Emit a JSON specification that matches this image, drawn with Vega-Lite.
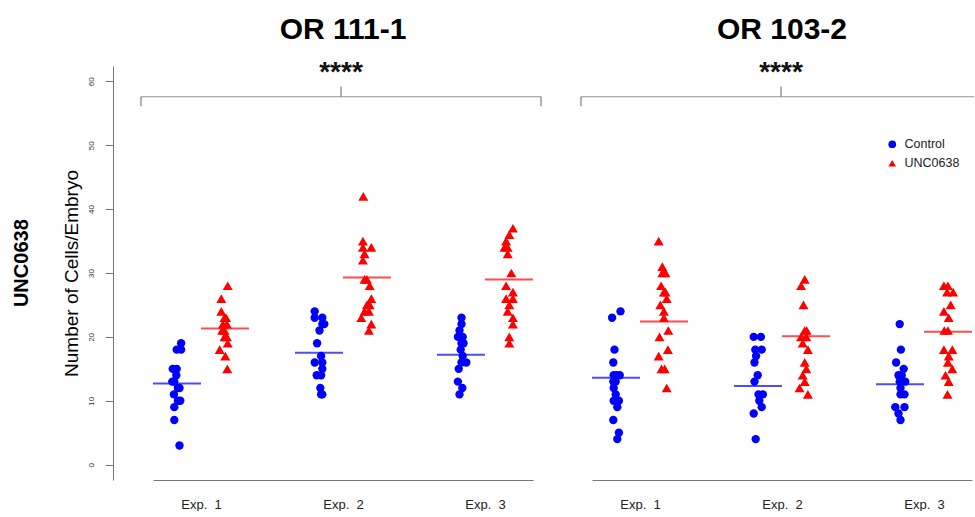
{
  "$schema": "https://vega.github.io/schema/vega-lite/v6.json",
  "padding": {"left": 12, "top": 15, "right": 0, "bottom": 0},
  "bounds": "flush",
  "spacing": 59,
  "title": {"text": "UNC0638", "orient": "left", "anchor": "middle", "fontSize": 20, "fontWeight": "bold", "font": "Liberation Sans", "color": "#000000", "offset": 30},
  "datasets": {
    "points": [
      {"strain":"OR 111-1","exp":"Exp. 1","group":"Control","value":19,"jitter":0.45},
      {"strain":"OR 111-1","exp":"Exp. 1","group":"Control","value":18,"jitter":-0.1},
      {"strain":"OR 111-1","exp":"Exp. 1","group":"Control","value":18,"jitter":0.45},
      {"strain":"OR 111-1","exp":"Exp. 1","group":"Control","value":15,"jitter":-0.6},
      {"strain":"OR 111-1","exp":"Exp. 1","group":"Control","value":15,"jitter":-0.1},
      {"strain":"OR 111-1","exp":"Exp. 1","group":"Control","value":14,"jitter":-0.15},
      {"strain":"OR 111-1","exp":"Exp. 1","group":"Control","value":13,"jitter":-0.4},
      {"strain":"OR 111-1","exp":"Exp. 1","group":"Control","value":13,"jitter":-0.65},
      {"strain":"OR 111-1","exp":"Exp. 1","group":"Control","value":12,"jitter":0.05},
      {"strain":"OR 111-1","exp":"Exp. 1","group":"Control","value":12,"jitter":0.25},
      {"strain":"OR 111-1","exp":"Exp. 1","group":"Control","value":11,"jitter":-0.45},
      {"strain":"OR 111-1","exp":"Exp. 1","group":"Control","value":10,"jitter":0.35},
      {"strain":"OR 111-1","exp":"Exp. 1","group":"Control","value":10,"jitter":0.05},
      {"strain":"OR 111-1","exp":"Exp. 1","group":"Control","value":9,"jitter":-0.4},
      {"strain":"OR 111-1","exp":"Exp. 1","group":"Control","value":7,"jitter":-0.4},
      {"strain":"OR 111-1","exp":"Exp. 1","group":"Control","value":3,"jitter":0.25},
      {"strain":"OR 111-1","exp":"Exp. 1","group":"UNC0638","value":28,"jitter":0.4},
      {"strain":"OR 111-1","exp":"Exp. 1","group":"UNC0638","value":26,"jitter":-0.4},
      {"strain":"OR 111-1","exp":"Exp. 1","group":"UNC0638","value":24,"jitter":-0.4},
      {"strain":"OR 111-1","exp":"Exp. 1","group":"UNC0638","value":23,"jitter":0},
      {"strain":"OR 111-1","exp":"Exp. 1","group":"UNC0638","value":23,"jitter":0.2},
      {"strain":"OR 111-1","exp":"Exp. 1","group":"UNC0638","value":22,"jitter":-0.2},
      {"strain":"OR 111-1","exp":"Exp. 1","group":"UNC0638","value":22,"jitter":0.3},
      {"strain":"OR 111-1","exp":"Exp. 1","group":"UNC0638","value":21,"jitter":0},
      {"strain":"OR 111-1","exp":"Exp. 1","group":"UNC0638","value":21,"jitter":-0.3},
      {"strain":"OR 111-1","exp":"Exp. 1","group":"UNC0638","value":20,"jitter":0},
      {"strain":"OR 111-1","exp":"Exp. 1","group":"UNC0638","value":20,"jitter":0.3},
      {"strain":"OR 111-1","exp":"Exp. 1","group":"UNC0638","value":19,"jitter":0.4},
      {"strain":"OR 111-1","exp":"Exp. 1","group":"UNC0638","value":18,"jitter":-0.6},
      {"strain":"OR 111-1","exp":"Exp. 1","group":"UNC0638","value":17,"jitter":0.1},
      {"strain":"OR 111-1","exp":"Exp. 1","group":"UNC0638","value":15,"jitter":0.35},
      {"strain":"OR 111-1","exp":"Exp. 2","group":"Control","value":24,"jitter":-0.6},
      {"strain":"OR 111-1","exp":"Exp. 2","group":"Control","value":23,"jitter":0.35},
      {"strain":"OR 111-1","exp":"Exp. 2","group":"Control","value":23,"jitter":-0.6},
      {"strain":"OR 111-1","exp":"Exp. 2","group":"Control","value":22,"jitter":0.6},
      {"strain":"OR 111-1","exp":"Exp. 2","group":"Control","value":22,"jitter":0.35},
      {"strain":"OR 111-1","exp":"Exp. 2","group":"Control","value":21,"jitter":0},
      {"strain":"OR 111-1","exp":"Exp. 2","group":"Control","value":19,"jitter":-0.3},
      {"strain":"OR 111-1","exp":"Exp. 2","group":"Control","value":17,"jitter":0.2},
      {"strain":"OR 111-1","exp":"Exp. 2","group":"Control","value":16,"jitter":-0.6},
      {"strain":"OR 111-1","exp":"Exp. 2","group":"Control","value":16,"jitter":0.35},
      {"strain":"OR 111-1","exp":"Exp. 2","group":"Control","value":15,"jitter":0.35},
      {"strain":"OR 111-1","exp":"Exp. 2","group":"Control","value":14,"jitter":0.2},
      {"strain":"OR 111-1","exp":"Exp. 2","group":"Control","value":14,"jitter":-0.35},
      {"strain":"OR 111-1","exp":"Exp. 2","group":"Control","value":12,"jitter":0.1},
      {"strain":"OR 111-1","exp":"Exp. 2","group":"Control","value":11,"jitter":0.2},
      {"strain":"OR 111-1","exp":"Exp. 2","group":"Control","value":11,"jitter":0.35},
      {"strain":"OR 111-1","exp":"Exp. 2","group":"UNC0638","value":42,"jitter":-0.4},
      {"strain":"OR 111-1","exp":"Exp. 2","group":"UNC0638","value":35,"jitter":-0.45},
      {"strain":"OR 111-1","exp":"Exp. 2","group":"UNC0638","value":34,"jitter":0.6},
      {"strain":"OR 111-1","exp":"Exp. 2","group":"UNC0638","value":34,"jitter":-0.45},
      {"strain":"OR 111-1","exp":"Exp. 2","group":"UNC0638","value":33,"jitter":-0.25},
      {"strain":"OR 111-1","exp":"Exp. 2","group":"UNC0638","value":32,"jitter":-0.45},
      {"strain":"OR 111-1","exp":"Exp. 2","group":"UNC0638","value":29,"jitter":-0.25},
      {"strain":"OR 111-1","exp":"Exp. 2","group":"UNC0638","value":29,"jitter":0.05},
      {"strain":"OR 111-1","exp":"Exp. 2","group":"UNC0638","value":28,"jitter":0.4},
      {"strain":"OR 111-1","exp":"Exp. 2","group":"UNC0638","value":26,"jitter":0.6},
      {"strain":"OR 111-1","exp":"Exp. 2","group":"UNC0638","value":25,"jitter":0.05},
      {"strain":"OR 111-1","exp":"Exp. 2","group":"UNC0638","value":25,"jitter":0.4},
      {"strain":"OR 111-1","exp":"Exp. 2","group":"UNC0638","value":24,"jitter":-0.25},
      {"strain":"OR 111-1","exp":"Exp. 2","group":"UNC0638","value":24,"jitter":0.3},
      {"strain":"OR 111-1","exp":"Exp. 2","group":"UNC0638","value":23,"jitter":-0.65},
      {"strain":"OR 111-1","exp":"Exp. 2","group":"UNC0638","value":22,"jitter":0.6},
      {"strain":"OR 111-1","exp":"Exp. 2","group":"UNC0638","value":21,"jitter":0.3},
      {"strain":"OR 111-1","exp":"Exp. 3","group":"Control","value":23,"jitter":0},
      {"strain":"OR 111-1","exp":"Exp. 3","group":"Control","value":22,"jitter":0},
      {"strain":"OR 111-1","exp":"Exp. 3","group":"Control","value":21,"jitter":-0.25},
      {"strain":"OR 111-1","exp":"Exp. 3","group":"Control","value":20,"jitter":0.15},
      {"strain":"OR 111-1","exp":"Exp. 3","group":"Control","value":20,"jitter":-0.45},
      {"strain":"OR 111-1","exp":"Exp. 3","group":"Control","value":19,"jitter":0},
      {"strain":"OR 111-1","exp":"Exp. 3","group":"Control","value":19,"jitter":0.25},
      {"strain":"OR 111-1","exp":"Exp. 3","group":"Control","value":18,"jitter":-0.1},
      {"strain":"OR 111-1","exp":"Exp. 3","group":"Control","value":17,"jitter":0.15},
      {"strain":"OR 111-1","exp":"Exp. 3","group":"Control","value":16,"jitter":0.6},
      {"strain":"OR 111-1","exp":"Exp. 3","group":"Control","value":16,"jitter":0},
      {"strain":"OR 111-1","exp":"Exp. 3","group":"Control","value":15,"jitter":-0.35},
      {"strain":"OR 111-1","exp":"Exp. 3","group":"Control","value":13,"jitter":-0.45},
      {"strain":"OR 111-1","exp":"Exp. 3","group":"Control","value":12,"jitter":0.1},
      {"strain":"OR 111-1","exp":"Exp. 3","group":"Control","value":11,"jitter":-0.25},
      {"strain":"OR 111-1","exp":"Exp. 3","group":"UNC0638","value":37,"jitter":0.55},
      {"strain":"OR 111-1","exp":"Exp. 3","group":"UNC0638","value":36,"jitter":0.1},
      {"strain":"OR 111-1","exp":"Exp. 3","group":"UNC0638","value":35,"jitter":-0.3},
      {"strain":"OR 111-1","exp":"Exp. 3","group":"UNC0638","value":34,"jitter":-0.1},
      {"strain":"OR 111-1","exp":"Exp. 3","group":"UNC0638","value":34,"jitter":-0.5},
      {"strain":"OR 111-1","exp":"Exp. 3","group":"UNC0638","value":33,"jitter":-0.1},
      {"strain":"OR 111-1","exp":"Exp. 3","group":"UNC0638","value":30,"jitter":0.35},
      {"strain":"OR 111-1","exp":"Exp. 3","group":"UNC0638","value":28,"jitter":-0.3},
      {"strain":"OR 111-1","exp":"Exp. 3","group":"UNC0638","value":27,"jitter":0.55},
      {"strain":"OR 111-1","exp":"Exp. 3","group":"UNC0638","value":26,"jitter":-0.3},
      {"strain":"OR 111-1","exp":"Exp. 3","group":"UNC0638","value":26,"jitter":0.55},
      {"strain":"OR 111-1","exp":"Exp. 3","group":"UNC0638","value":25,"jitter":0.1},
      {"strain":"OR 111-1","exp":"Exp. 3","group":"UNC0638","value":24,"jitter":-0.1},
      {"strain":"OR 111-1","exp":"Exp. 3","group":"UNC0638","value":23,"jitter":0.55},
      {"strain":"OR 111-1","exp":"Exp. 3","group":"UNC0638","value":22,"jitter":0.55},
      {"strain":"OR 111-1","exp":"Exp. 3","group":"UNC0638","value":20,"jitter":0.1},
      {"strain":"OR 111-1","exp":"Exp. 3","group":"UNC0638","value":19,"jitter":0.1},
      {"strain":"OR 103-2","exp":"Exp. 1","group":"Control","value":24,"jitter":0.5},
      {"strain":"OR 103-2","exp":"Exp. 1","group":"Control","value":23,"jitter":-0.55},
      {"strain":"OR 103-2","exp":"Exp. 1","group":"Control","value":18,"jitter":-0.25},
      {"strain":"OR 103-2","exp":"Exp. 1","group":"Control","value":16,"jitter":-0.4},
      {"strain":"OR 103-2","exp":"Exp. 1","group":"Control","value":14,"jitter":0.4},
      {"strain":"OR 103-2","exp":"Exp. 1","group":"Control","value":14,"jitter":0},
      {"strain":"OR 103-2","exp":"Exp. 1","group":"Control","value":14,"jitter":-0.35},
      {"strain":"OR 103-2","exp":"Exp. 1","group":"Control","value":13,"jitter":-0.4},
      {"strain":"OR 103-2","exp":"Exp. 1","group":"Control","value":13,"jitter":-0.1},
      {"strain":"OR 103-2","exp":"Exp. 1","group":"Control","value":12,"jitter":-0.35},
      {"strain":"OR 103-2","exp":"Exp. 1","group":"Control","value":11,"jitter":-0.1},
      {"strain":"OR 103-2","exp":"Exp. 1","group":"Control","value":10,"jitter":-0.35},
      {"strain":"OR 103-2","exp":"Exp. 1","group":"Control","value":10,"jitter":0.3},
      {"strain":"OR 103-2","exp":"Exp. 1","group":"Control","value":10,"jitter":0},
      {"strain":"OR 103-2","exp":"Exp. 1","group":"Control","value":9,"jitter":0.1},
      {"strain":"OR 103-2","exp":"Exp. 1","group":"Control","value":7,"jitter":-0.4},
      {"strain":"OR 103-2","exp":"Exp. 1","group":"Control","value":5,"jitter":0.3},
      {"strain":"OR 103-2","exp":"Exp. 1","group":"Control","value":4,"jitter":0.1},
      {"strain":"OR 103-2","exp":"Exp. 1","group":"UNC0638","value":35,"jitter":-0.6},
      {"strain":"OR 103-2","exp":"Exp. 1","group":"UNC0638","value":31,"jitter":-0.15},
      {"strain":"OR 103-2","exp":"Exp. 1","group":"UNC0638","value":30,"jitter":0.25},
      {"strain":"OR 103-2","exp":"Exp. 1","group":"UNC0638","value":30,"jitter":-0.15},
      {"strain":"OR 103-2","exp":"Exp. 1","group":"UNC0638","value":28,"jitter":-0.3},
      {"strain":"OR 103-2","exp":"Exp. 1","group":"UNC0638","value":27,"jitter":0.25},
      {"strain":"OR 103-2","exp":"Exp. 1","group":"UNC0638","value":27,"jitter":0.05},
      {"strain":"OR 103-2","exp":"Exp. 1","group":"UNC0638","value":26,"jitter":0.4},
      {"strain":"OR 103-2","exp":"Exp. 1","group":"UNC0638","value":25,"jitter":-0.4},
      {"strain":"OR 103-2","exp":"Exp. 1","group":"UNC0638","value":24,"jitter":0.05},
      {"strain":"OR 103-2","exp":"Exp. 1","group":"UNC0638","value":23,"jitter":0.05},
      {"strain":"OR 103-2","exp":"Exp. 1","group":"UNC0638","value":21,"jitter":0.6},
      {"strain":"OR 103-2","exp":"Exp. 1","group":"UNC0638","value":20,"jitter":-0.5},
      {"strain":"OR 103-2","exp":"Exp. 1","group":"UNC0638","value":18,"jitter":0.55},
      {"strain":"OR 103-2","exp":"Exp. 1","group":"UNC0638","value":17,"jitter":-0.6},
      {"strain":"OR 103-2","exp":"Exp. 1","group":"UNC0638","value":15,"jitter":-0.25},
      {"strain":"OR 103-2","exp":"Exp. 1","group":"UNC0638","value":15,"jitter":0.15},
      {"strain":"OR 103-2","exp":"Exp. 1","group":"UNC0638","value":12,"jitter":0.4},
      {"strain":"OR 103-2","exp":"Exp. 2","group":"Control","value":20,"jitter":-0.6},
      {"strain":"OR 103-2","exp":"Exp. 2","group":"Control","value":20,"jitter":0.3},
      {"strain":"OR 103-2","exp":"Exp. 2","group":"Control","value":18,"jitter":-0.4},
      {"strain":"OR 103-2","exp":"Exp. 2","group":"Control","value":18,"jitter":0.4},
      {"strain":"OR 103-2","exp":"Exp. 2","group":"Control","value":17,"jitter":-0.3},
      {"strain":"OR 103-2","exp":"Exp. 2","group":"Control","value":16,"jitter":-0.5},
      {"strain":"OR 103-2","exp":"Exp. 2","group":"Control","value":14,"jitter":-0.1},
      {"strain":"OR 103-2","exp":"Exp. 2","group":"Control","value":13,"jitter":-0.5},
      {"strain":"OR 103-2","exp":"Exp. 2","group":"Control","value":11,"jitter":0},
      {"strain":"OR 103-2","exp":"Exp. 2","group":"Control","value":11,"jitter":0.55},
      {"strain":"OR 103-2","exp":"Exp. 2","group":"Control","value":10,"jitter":0.1},
      {"strain":"OR 103-2","exp":"Exp. 2","group":"Control","value":9,"jitter":0.4},
      {"strain":"OR 103-2","exp":"Exp. 2","group":"Control","value":8,"jitter":-0.6},
      {"strain":"OR 103-2","exp":"Exp. 2","group":"Control","value":4,"jitter":-0.35},
      {"strain":"OR 103-2","exp":"Exp. 2","group":"UNC0638","value":29,"jitter":-0.1},
      {"strain":"OR 103-2","exp":"Exp. 2","group":"UNC0638","value":28,"jitter":-0.55},
      {"strain":"OR 103-2","exp":"Exp. 2","group":"UNC0638","value":25,"jitter":-0.25},
      {"strain":"OR 103-2","exp":"Exp. 2","group":"UNC0638","value":21,"jitter":-0.1},
      {"strain":"OR 103-2","exp":"Exp. 2","group":"UNC0638","value":21,"jitter":0.15},
      {"strain":"OR 103-2","exp":"Exp. 2","group":"UNC0638","value":20,"jitter":-0.55},
      {"strain":"OR 103-2","exp":"Exp. 2","group":"UNC0638","value":20,"jitter":0.1},
      {"strain":"OR 103-2","exp":"Exp. 2","group":"UNC0638","value":19,"jitter":-0.35},
      {"strain":"OR 103-2","exp":"Exp. 2","group":"UNC0638","value":18,"jitter":0.3},
      {"strain":"OR 103-2","exp":"Exp. 2","group":"UNC0638","value":16,"jitter":-0.1},
      {"strain":"OR 103-2","exp":"Exp. 2","group":"UNC0638","value":15,"jitter":0.1},
      {"strain":"OR 103-2","exp":"Exp. 2","group":"UNC0638","value":14,"jitter":-0.35},
      {"strain":"OR 103-2","exp":"Exp. 2","group":"UNC0638","value":13,"jitter":-0.1},
      {"strain":"OR 103-2","exp":"Exp. 2","group":"UNC0638","value":12,"jitter":-0.75},
      {"strain":"OR 103-2","exp":"Exp. 2","group":"UNC0638","value":11,"jitter":0.3},
      {"strain":"OR 103-2","exp":"Exp. 3","group":"Control","value":22,"jitter":-0.1},
      {"strain":"OR 103-2","exp":"Exp. 3","group":"Control","value":18,"jitter":0.05},
      {"strain":"OR 103-2","exp":"Exp. 3","group":"Control","value":16,"jitter":-0.55},
      {"strain":"OR 103-2","exp":"Exp. 3","group":"Control","value":15,"jitter":0.4},
      {"strain":"OR 103-2","exp":"Exp. 3","group":"Control","value":14,"jitter":-0.25},
      {"strain":"OR 103-2","exp":"Exp. 3","group":"Control","value":14,"jitter":0.15},
      {"strain":"OR 103-2","exp":"Exp. 3","group":"Control","value":13,"jitter":0.6},
      {"strain":"OR 103-2","exp":"Exp. 3","group":"Control","value":13,"jitter":-0.1},
      {"strain":"OR 103-2","exp":"Exp. 3","group":"Control","value":12,"jitter":0},
      {"strain":"OR 103-2","exp":"Exp. 3","group":"Control","value":11,"jitter":0},
      {"strain":"OR 103-2","exp":"Exp. 3","group":"Control","value":11,"jitter":0.5},
      {"strain":"OR 103-2","exp":"Exp. 3","group":"Control","value":9,"jitter":-0.65},
      {"strain":"OR 103-2","exp":"Exp. 3","group":"Control","value":9,"jitter":0.5},
      {"strain":"OR 103-2","exp":"Exp. 3","group":"Control","value":8,"jitter":-0.25},
      {"strain":"OR 103-2","exp":"Exp. 3","group":"Control","value":7,"jitter":0},
      {"strain":"OR 103-2","exp":"Exp. 3","group":"UNC0638","value":28,"jitter":-0.45},
      {"strain":"OR 103-2","exp":"Exp. 3","group":"UNC0638","value":28,"jitter":0.05},
      {"strain":"OR 103-2","exp":"Exp. 3","group":"UNC0638","value":27,"jitter":-0.05},
      {"strain":"OR 103-2","exp":"Exp. 3","group":"UNC0638","value":27,"jitter":0.7},
      {"strain":"OR 103-2","exp":"Exp. 3","group":"UNC0638","value":25,"jitter":0.4},
      {"strain":"OR 103-2","exp":"Exp. 3","group":"UNC0638","value":24,"jitter":-0.45},
      {"strain":"OR 103-2","exp":"Exp. 3","group":"UNC0638","value":23,"jitter":0.15},
      {"strain":"OR 103-2","exp":"Exp. 3","group":"UNC0638","value":21,"jitter":-0.4},
      {"strain":"OR 103-2","exp":"Exp. 3","group":"UNC0638","value":21,"jitter":0.05},
      {"strain":"OR 103-2","exp":"Exp. 3","group":"UNC0638","value":18,"jitter":-0.45},
      {"strain":"OR 103-2","exp":"Exp. 3","group":"UNC0638","value":18,"jitter":0.6},
      {"strain":"OR 103-2","exp":"Exp. 3","group":"UNC0638","value":17,"jitter":0.15},
      {"strain":"OR 103-2","exp":"Exp. 3","group":"UNC0638","value":16,"jitter":0.05},
      {"strain":"OR 103-2","exp":"Exp. 3","group":"UNC0638","value":15,"jitter":0.6},
      {"strain":"OR 103-2","exp":"Exp. 3","group":"UNC0638","value":14,"jitter":-0.25},
      {"strain":"OR 103-2","exp":"Exp. 3","group":"UNC0638","value":13,"jitter":0.15},
      {"strain":"OR 103-2","exp":"Exp. 3","group":"UNC0638","value":11,"jitter":0}
    ],
    "means": [
      {"strain":"OR 111-1","exp":"Exp. 1","group":"Control","mean":12.7},
      {"strain":"OR 111-1","exp":"Exp. 1","group":"UNC0638","mean":21.3},
      {"strain":"OR 111-1","exp":"Exp. 2","group":"Control","mean":17.5},
      {"strain":"OR 111-1","exp":"Exp. 2","group":"UNC0638","mean":29.3},
      {"strain":"OR 111-1","exp":"Exp. 3","group":"Control","mean":17.2},
      {"strain":"OR 111-1","exp":"Exp. 3","group":"UNC0638","mean":29.0},
      {"strain":"OR 103-2","exp":"Exp. 1","group":"Control","mean":13.6},
      {"strain":"OR 103-2","exp":"Exp. 1","group":"UNC0638","mean":22.4},
      {"strain":"OR 103-2","exp":"Exp. 2","group":"Control","mean":12.3},
      {"strain":"OR 103-2","exp":"Exp. 2","group":"UNC0638","mean":20.1},
      {"strain":"OR 103-2","exp":"Exp. 3","group":"Control","mean":12.6},
      {"strain":"OR 103-2","exp":"Exp. 3","group":"UNC0638","mean":20.8}
    ],
    "brackets": [
      {"strain":"OR 111-1","sig":"****"},
      {"strain":"OR 103-2","sig":"****"}
    ]
  },
  "hconcat": [
    {
      "title": {"text": "OR 111-1"},
      "width": 380,
      "height": 414,
      "layer": [
        {
          "data": {"name": "points"},
          "transform": [{"filter": "datum.strain === 'OR 111-1' && datum.group === 'Control'"}],
          "mark": {"type": "point", "filled": true, "opacity": 1, "size": 70, "xOffset": {"expr": "datum.jitter * 8 - 23.5"}},
          "encoding": {
            "x": {"field": "exp", "type": "ordinal", "scale": {"type": "point", "domain": ["Exp. 1", "Exp. 2", "Exp. 3"], "padding": 0.338},
                  "axis": {"title": null, "ticks": false, "labelFontSize": 13, "labelColor": "#222222", "labelPadding": 18, "labelAngle": 0, "domainColor": "#777777", "labelExpr": "replace(datum.label, '. ', '.\u00a0 ')"}},
            "y": {"field": "value", "type": "quantitative", "scale": {"domain": [-2.4, 62.4], "nice": false, "zero": false},
                  "axis": {"values": [0, 10, 20, 30, 40, 50, 60], "title": "Number of Cells/Embryo", "titleFontSize": 19, "titleFontWeight": "normal", "titleColor": "#000000", "titlePadding": 6, "labelAngle": -90, "labelAlign": "center", "labelBaseline": "bottom", "labelFontSize": 8, "labelColor": "#333333", "labelPadding": 10, "tickSize": 8, "offset": 40, "domainColor": "#777777", "tickColor": "#777777", "grid": false}},
            "color": {"field": "group", "type": "nominal", "scale": {"domain": ["Control", "UNC0638"], "range": ["#0000ff", "#ff0000"]},
                      "legend": {"title": null, "orient": "none", "legendX": 733, "legendY": 72, "labelFontSize": 12.5, "labelColor": "#222222", "symbolSize": 60, "labelOffset": 6, "rowPadding": 6}},
            "shape": {"field": "group", "type": "nominal", "scale": {"domain": ["Control", "UNC0638"], "range": ["circle", "triangle-up"]},
                      "legend": {"title": null, "orient": "none", "legendX": 733, "legendY": 72, "labelFontSize": 12.5, "labelColor": "#222222", "symbolSize": 60, "labelOffset": 6, "rowPadding": 6}}
          }
        },
        {
          "data": {"name": "points"},
          "transform": [{"filter": "datum.strain === 'OR 111-1' && datum.group === 'UNC0638'"}],
          "mark": {"type": "point", "filled": true, "opacity": 1, "size": 100, "xOffset": {"expr": "datum.jitter * 8 + 23.5"}},
          "encoding": {
            "x": {"field": "exp", "type": "ordinal"},
            "y": {"field": "value", "type": "quantitative"},
            "color": {"field": "group", "type": "nominal"},
            "shape": {"field": "group", "type": "nominal"}
          }
        },
        {
          "data": {"name": "means"},
          "transform": [{"filter": "datum.strain === 'OR 111-1' && datum.group === 'Control'"}],
          "mark": {"type": "tick", "orient": "horizontal", "size": 48, "thickness": 2, "color": "#0000ff", "xOffset": -24},
          "encoding": {"x": {"field": "exp", "type": "ordinal"}, "y": {"field": "mean", "type": "quantitative"}}
        },
        {
          "data": {"name": "means"},
          "transform": [{"filter": "datum.strain === 'OR 111-1' && datum.group === 'UNC0638'"}],
          "mark": {"type": "tick", "orient": "horizontal", "size": 48, "thickness": 2, "color": "#ff0000", "xOffset": 24},
          "encoding": {"x": {"field": "exp", "type": "ordinal"}, "y": {"field": "mean", "type": "quantitative"}}
        },
        {
          "data": {"name": "brackets"},
          "transform": [{"filter": "datum.strain === 'OR 111-1'"}],
          "mark": {"type": "tick", "orient": "horizontal", "size": 400, "thickness": 1, "color": "#666666", "xOffset": -2},
          "encoding": {"x": {"datum": "Exp. 2", "type": "ordinal"}, "y": {"datum": 57.6, "type": "quantitative"}}
        },
        {
          "data": {"name": "brackets"},
          "transform": [{"filter": "datum.strain === 'OR 111-1'"}],
          "mark": {"type": "rule", "color": "#666666", "strokeWidth": 1, "xOffset": -60},
          "encoding": {"x": {"datum": "Exp. 1", "type": "ordinal"}, "y": {"datum": 57.6, "type": "quantitative"}, "y2": {"datum": 56.1}}
        },
        {
          "data": {"name": "brackets"},
          "transform": [{"filter": "datum.strain === 'OR 111-1'"}],
          "mark": {"type": "rule", "color": "#666666", "strokeWidth": 1, "xOffset": 56},
          "encoding": {"x": {"datum": "Exp. 3", "type": "ordinal"}, "y": {"datum": 57.6, "type": "quantitative"}, "y2": {"datum": 56.1}}
        },
        {
          "data": {"name": "brackets"},
          "transform": [{"filter": "datum.strain === 'OR 111-1'"}],
          "mark": {"type": "rule", "color": "#666666", "strokeWidth": 1, "xOffset": -2},
          "encoding": {"x": {"datum": "Exp. 2", "type": "ordinal"}, "y": {"datum": 57.6, "type": "quantitative"}, "y2": {"datum": 59.2}}
        },
        {
          "data": {"name": "brackets"},
          "transform": [{"filter": "datum.strain === 'OR 111-1'"}],
          "mark": {"type": "text", "fontSize": 28, "fontWeight": "bold", "baseline": "alphabetic", "color": "#111111", "xOffset": -2},
          "encoding": {"x": {"datum": "Exp. 2", "type": "ordinal"}, "y": {"datum": 60, "type": "quantitative"}, "text": {"field": "sig"}}
        }
      ]
    },
    {
      "title": {"text": "OR 103-2"},
      "width": 380,
      "height": 414,
      "layer": [
        {
          "data": {"name": "points"},
          "transform": [{"filter": "datum.strain === 'OR 103-2' && datum.group === 'Control'"}],
          "mark": {"type": "point", "filled": true, "opacity": 1, "size": 70, "xOffset": {"expr": "datum.jitter * 8 - 23.5"}},
          "encoding": {
            "x": {"field": "exp", "type": "ordinal", "scale": {"type": "point", "domain": ["Exp. 1", "Exp. 2", "Exp. 3"], "padding": 0.338},
                  "axis": {"title": null, "ticks": false, "labelFontSize": 13, "labelColor": "#222222", "labelPadding": 18, "labelAngle": 0, "domainColor": "#777777", "labelExpr": "replace(datum.label, '. ', '.\u00a0 ')"}},
            "y": {"field": "value", "type": "quantitative", "scale": {"domain": [-2.4, 62.4], "nice": false, "zero": false}, "axis": null},
            "color": {"field": "group", "type": "nominal"},
            "shape": {"field": "group", "type": "nominal"}
          }
        },
        {
          "data": {"name": "points"},
          "transform": [{"filter": "datum.strain === 'OR 103-2' && datum.group === 'UNC0638'"}],
          "mark": {"type": "point", "filled": true, "opacity": 1, "size": 100, "xOffset": {"expr": "datum.jitter * 8 + 23.5"}},
          "encoding": {
            "x": {"field": "exp", "type": "ordinal"},
            "y": {"field": "value", "type": "quantitative"},
            "color": {"field": "group", "type": "nominal"},
            "shape": {"field": "group", "type": "nominal"}
          }
        },
        {
          "data": {"name": "means"},
          "transform": [{"filter": "datum.strain === 'OR 103-2' && datum.group === 'Control'"}],
          "mark": {"type": "tick", "orient": "horizontal", "size": 48, "thickness": 2, "color": "#0000ff", "xOffset": -24},
          "encoding": {"x": {"field": "exp", "type": "ordinal"}, "y": {"field": "mean", "type": "quantitative"}}
        },
        {
          "data": {"name": "means"},
          "transform": [{"filter": "datum.strain === 'OR 103-2' && datum.group === 'UNC0638'"}],
          "mark": {"type": "tick", "orient": "horizontal", "size": 48, "thickness": 2, "color": "#ff0000", "xOffset": 24},
          "encoding": {"x": {"field": "exp", "type": "ordinal"}, "y": {"field": "mean", "type": "quantitative"}}
        },
        {
          "data": {"name": "brackets"},
          "transform": [{"filter": "datum.strain === 'OR 103-2'"}],
          "mark": {"type": "tick", "orient": "horizontal", "size": 393, "thickness": 1, "color": "#666666", "xOffset": -4.5},
          "encoding": {"x": {"datum": "Exp. 2", "type": "ordinal"}, "y": {"datum": 57.6, "type": "quantitative"}}
        },
        {
          "data": {"name": "brackets"},
          "transform": [{"filter": "datum.strain === 'OR 103-2'"}],
          "mark": {"type": "rule", "color": "#666666", "strokeWidth": 1, "xOffset": -59},
          "encoding": {"x": {"datum": "Exp. 1", "type": "ordinal"}, "y": {"datum": 57.6, "type": "quantitative"}, "y2": {"datum": 56.1}}
        },
        {
          "data": {"name": "brackets"},
          "transform": [{"filter": "datum.strain === 'OR 103-2'"}],
          "mark": {"type": "rule", "color": "#666666", "strokeWidth": 1, "xOffset": -1},
          "encoding": {"x": {"datum": "Exp. 2", "type": "ordinal"}, "y": {"datum": 57.6, "type": "quantitative"}, "y2": {"datum": 59.2}}
        },
        {
          "data": {"name": "brackets"},
          "transform": [{"filter": "datum.strain === 'OR 103-2'"}],
          "mark": {"type": "text", "fontSize": 28, "fontWeight": "bold", "baseline": "alphabetic", "color": "#111111", "xOffset": -1},
          "encoding": {"x": {"datum": "Exp. 2", "type": "ordinal"}, "y": {"datum": 60, "type": "quantitative"}, "text": {"field": "sig"}}
        }
      ]
    }
  ],
  "config": {
    "view": {"stroke": null},
    "font": "Liberation Sans",
    "title": {"fontSize": 30, "fontWeight": "bold", "color": "#000000", "offset": 14, "font": "Liberation Sans"},
    "axis": {"grid": false, "labelFont": "Liberation Sans", "titleFont": "Liberation Sans"},
    "legend": {"labelFont": "Liberation Sans"}
  }
}
